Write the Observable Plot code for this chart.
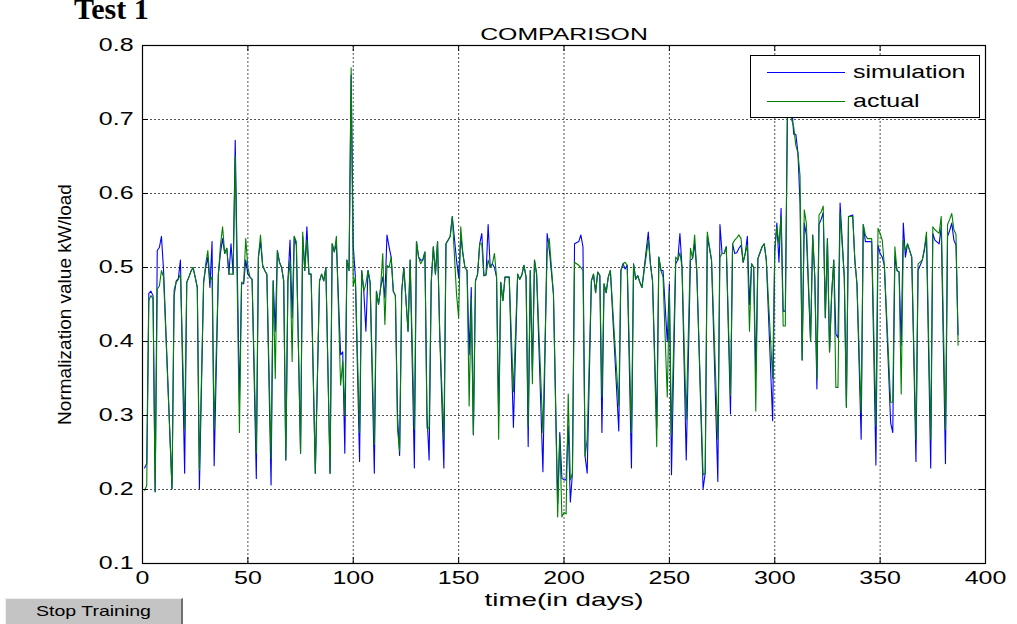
<!DOCTYPE html>
<html><head><meta charset="utf-8">
<script src="https://cdn.jsdelivr.net/npm/d3@7"></script>
<script src="https://cdn.jsdelivr.net/npm/@observablehq/plot@0.6"></script>
<style>
body{margin:0;background:#fff;}
#wrap{position:relative;width:1017px;height:624px;overflow:hidden;font-family:"Liberation Sans",Arial,sans-serif;background:#fff;}
#chart{position:absolute;left:0;top:0;}
#test{position:absolute;left:74px;top:-8px;font:bold 30px "Liberation Serif","Times New Roman",serif;color:#000;white-space:nowrap;}
#legend{position:absolute;left:750px;top:55px;width:230px;height:63px;background:#fff;border:1px solid #000;box-sizing:border-box;}
.row{position:absolute;left:0;height:20px;width:100%;}
.sw{position:absolute;left:16px;width:78px;top:9px;height:0;border-top:1px solid;}
.lt{position:absolute;left:102px;top:-2px;font-size:18.5px;line-height:22px;transform:scaleX(1.35);transform-origin:left center;white-space:nowrap;}
#btn{position:absolute;left:5px;top:598px;width:178px;height:28px;background:#c4c4c4;box-sizing:border-box;border-top:1px solid #f0f0f0;border-left:1px solid #f0f0f0;border-right:2px solid #707070;border-bottom:2px solid #707070;}
#btn span{position:absolute;left:0;width:100%;top:3px;text-align:center;font-size:15px;transform:scaleX(1.3);transform-origin:center;}
</style></head>
<body><div id="wrap"><div id="chart"></div>
<div id="test">Test 1</div>
<div id="legend">
 <div class="row" style="top:7px"><div class="sw" style="border-color:#0000ff"></div><div class="lt" id="lg1"></div></div>
 <div class="row" style="top:36px"><div class="sw" style="border-color:#008000"></div><div class="lt" id="lg2"></div></div>
</div>
<div id="btn"><span>Stop Training</span></div>
</div>
<script>
const seriesNames = ["simulation", "actual"];
const seriesColors = ["#0000ff", "#008000"];
const xTicks = [0, 50, 100, 150, 200, 250, 300, 350, 400];
const yTicks = [0.1, 0.2, 0.3, 0.4, 0.5, 0.6, 0.7, 0.8];
const titleText = "COMPARISON";
const xLabel = "time(in days)";
const yLabel = "Normalization value kW/load";

const days = [1,2,3,4,5,6,7,8,9,10,14,15,16,17,18,20,21,22,23,24,25,26,27,29,30,31,32,33,34,36,37,38,39,40,41,42,43,44,46,47,48,49,
50,51,52,54,55,56,57,58,59,61,62,63,64,65,66,67,68,69,70,71,72,73,75,76,77,78,79,80,82,84,85,86,87,89,90,91,92,94,95,96,97,98,99,
100,101,103,104,105,106,107,108,110,111,112,113,114,115,116,117,118,119,120,121,122,123,124,126,127,129,130,131,132,133,134,135,136,137,138,139,140,141,143,144,146,147,149,
150,151,152,153,154,155,156,157,158,159,160,161,162,163,164,165,166,167,168,169,170,171,172,173,174,176,178,179,180,181,182,183,184,185,186,187,190,192,193,195,197,198,199,
200,201,202,203,204,205,207,208,209,210,211,213,214,215,216,217,218,219,220,221,222,226,227,228,229,230,232,233,234,235,236,237,240,241,242,244,245,246,247,249,
250,251,253,254,255,256,258,260,261,262,263,266,267,268,270,273,274,275,276,277,279,280,281,282,283,284,285,286,287,288,289,290,291,292,294,295,296,299,
300,301,302,303,304,305,306,307,308,309,310,311,312,313,314,315,317,318,319,320,321,322,323,324,325,326,327,328,329,330,331,333,334,335,336,337,338,339,341,342,343,344,345,346,348,349,
350,351,352,355,356,357,358,359,360,361,362,363,365,367,368,370,371,372,374,375,376,378,379,381,382,383,384,385,386,387];

const simulation = [.229,.235,.465,.468,.462,.197,.523,.527,.542,.496,.201,.462,.482,.485,.510,.222,.480,.487,.495,.500,.487,.473,.201,.480,.500,.514,.473,.535,.232,.491,.520,.539,.519,.526,.491,.532,.491,.672,.318,.478,.478,.510,
.491,.487,.484,.215,.514,.535,.503,.496,.491,.206,.482,.414,.523,.507,.500,.482,.240,.482,.537,.432,.542,.530,.249,.542,.496,.555,.491,.491,.222,.482,.491,.482,.500,.222,.532,.521,.532,.382,.386,.249,.510,.496,.760,
.530,.487,.238,.496,.468,.414,.496,.480,.222,.468,.450,.473,.487,.459,.544,.528,.514,.468,.462,.300,.246,.468,.500,.414,.510,.229,.535,.514,.510,.510,.521,.300,.240,.480,.528,.491,.535,.414,.229,.532,.542,.569,.510,
.487,.542,.519,.500,.496,.382,.473,.274,.482,.491,.532,.546,.489,.490,.558,.500,.505,.500,.487,.300,.480,.455,.487,.487,.487,.284,.491,.484,.490,.503,.487,.258,.496,.360,.510,.491,.224,.546,.525,.464,.181,.277,.215,
.213,.213,.286,.183,.222,.532,.535,.544,.528,.245,.222,.482,.491,.466,.494,.489,.277,.478,.466,.487,.496,.279,.496,.505,.498,.503,.229,.505,.484,.489,.480,.473,.548,.505,.482,.284,.514,.496,.496,.400,
.478,.220,.505,.510,.546,.500,.240,.510,.512,.532,.496,.201,.222,.542,.510,.211,.558,.519,.519,.528,.302,.532,.519,.520,.526,.530,.507,.519,.542,.450,.505,.500,.357,.512,.528,.532,.510,.293,
.523,.560,.507,.580,.441,.441,.700,.730,.720,.680,.680,.655,.587,.375,.560,.544,.400,.544,.487,.336,.558,.565,.574,.432,.539,.386,.464,.510,.410,.405,.587,.487,.311,.569,.570,.571,.510,.478,.268,.558,.535,.535,.535,.535,.233,.530,
.519,.514,.503,.290,.277,.514,.496,.494,.395,.560,.514,.532,.514,.238,.496,.510,.523,.542,.229,.546,.537,.532,.555,.235,.542,.550,.560,.537,.530,.409];

const actual = [.199,.205,.455,.462,.458,.197,.471,.475,.496,.487,.201,.470,.480,.484,.491,.281,.480,.487,.495,.500,.487,.473,.226,.480,.505,.523,.482,.487,.281,.491,.530,.555,.519,.526,.491,.491,.491,.651,.277,.480,.480,.539,
.500,.487,.484,.249,.514,.544,.503,.496,.491,.242,.482,.350,.523,.507,.500,.482,.240,.482,.510,.373,.542,.535,.249,.548,.496,.537,.491,.491,.222,.482,.491,.482,.500,.222,.532,.521,.542,.341,.373,.300,.510,.496,.770,
.475,.487,.277,.496,.468,.478,.496,.480,.261,.468,.450,.473,.519,.423,.503,.500,.514,.468,.462,.281,.252,.468,.500,.414,.510,.281,.535,.514,.505,.510,.521,.283,.283,.480,.528,.491,.535,.414,.268,.532,.542,.569,.464,
.432,.555,.519,.500,.496,.313,.459,.274,.482,.491,.532,.532,.489,.490,.510,.500,.505,.519,.487,.268,.480,.455,.487,.487,.487,.332,.491,.484,.490,.503,.487,.286,.496,.343,.510,.491,.277,.520,.539,.464,.163,.272,.163,
.169,.167,.329,.213,.222,.507,.503,.500,.496,.245,.268,.482,.491,.466,.494,.489,.325,.478,.466,.487,.496,.313,.496,.505,.507,.503,.277,.505,.484,.489,.480,.473,.537,.505,.482,.258,.514,.496,.487,.325,
.468,.274,.514,.510,.520,.500,.295,.526,.512,.544,.496,.220,.222,.548,.510,.268,.514,.519,.519,.528,.327,.532,.537,.540,.544,.539,.507,.519,.530,.414,.505,.500,.306,.512,.528,.532,.510,.350,
.523,.555,.532,.569,.421,.421,.720,.720,.700,.690,.665,.655,.624,.375,.578,.560,.400,.544,.487,.350,.571,.575,.583,.432,.539,.386,.464,.510,.338,.338,.574,.487,.311,.569,.569,.569,.510,.478,.304,.558,.544,.539,.539,.539,.286,.553,
.546,.537,.503,.318,.318,.528,.496,.494,.329,.537,.523,.532,.514,.268,.505,.510,.526,.548,.268,.555,.551,.546,.569,.281,.558,.565,.573,.551,.545,.395];

const rows = days.map((d, i) => ({day: d, sim: simulation[i], act: actual[i]}));

const W = 1017, H = 624, mL = 142, mR = 32, mT = 45, mB = 61;
const pW = W - mL - mR, pH = H - mT - mB;
const gridStyle = {stroke: "#000", strokeOpacity: 0.85, strokeWidth: 0.8, strokeDasharray: "2,2"};

const chart = Plot.plot({
  width: W, height: H,
  marginLeft: mL, marginRight: mR, marginTop: mT, marginBottom: mB,
  x: {domain: [0, 400]},
  y: {domain: [0.1, 0.8]},
  style: {fontFamily: "'Liberation Sans', Arial, sans-serif", color: "#000", background: "#fff", overflow: "visible"},
  marks: [
    Plot.gridX(xTicks.slice(1, -1), gridStyle),
    Plot.gridY(yTicks.slice(1, -1), gridStyle),
    Plot.line(rows, {x: "day", y: "sim", stroke: seriesColors[0], strokeWidth: 1.1}),
    Plot.line(rows, {x: "day", y: "act", stroke: seriesColors[1], strokeWidth: 1.1}),
    Plot.ruleX(xTicks, {insetTop: pH - 6, stroke: "#000"}),
    Plot.ruleX(xTicks, {insetBottom: pH - 6, stroke: "#000"}),
    Plot.ruleY(yTicks, {insetRight: pW - 6, stroke: "#000"}),
    Plot.ruleY(yTicks, {insetLeft: pW - 6, stroke: "#000"}),
    Plot.frame({stroke: "#000", strokeWidth: 1.2}),
    Plot.axisX(xTicks, {tickSize: 0, tickPadding: 7, fontSize: 18.5, tickFormat: d => String(d), label: null}),
    Plot.axisY(yTicks, {tickSize: 0, tickPadding: 9, fontSize: 18.5, tickFormat: d3.format(".1f"), label: null}),
    Plot.text([titleText], {frameAnchor: "top", dy: -17, fontSize: 16, text: d => d}),
    Plot.text([xLabel], {frameAnchor: "bottom", dy: 42, fontSize: 18.5, text: d => d}),
    Plot.text([yLabel], {frameAnchor: "left", dx: -78, rotate: -90, textAnchor: "middle", fontSize: 19, text: d => d})
  ]
});
document.getElementById("chart").appendChild(chart);
document.getElementById("lg1").textContent = seriesNames[0];
document.getElementById("lg2").textContent = seriesNames[1];

// widen horizontal text like the reference's stretched rendering
const stretch = {[titleText]: 1.55, [xLabel]: 1.5};
chart.querySelectorAll("text").forEach(t => {
  if (t.textContent === yLabel) return;
  const len = t.getComputedTextLength();
  if (len > 0) {
    t.setAttribute("textLength", (len * (stretch[t.textContent] || 1.35)).toFixed(1));
    t.setAttribute("lengthAdjust", "spacingAndGlyphs");
  }
});
</script>
</body></html>
